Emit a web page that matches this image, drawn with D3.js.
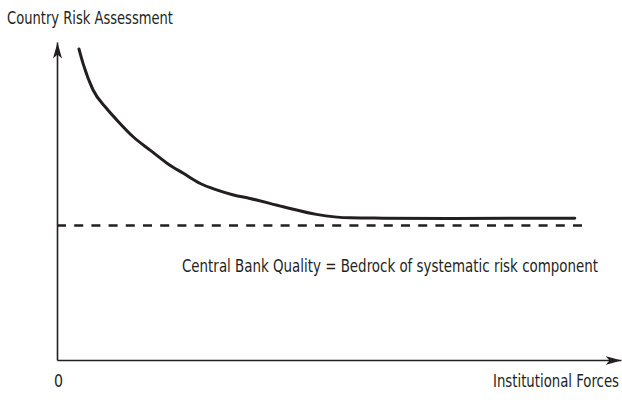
<!DOCTYPE html>
<html>
<head>
<meta charset="utf-8">
<script src="https://cdn.jsdelivr.net/npm/d3@7"></script>
<style>
  body { margin: 0; background: #fff; }
  text { font-family: "DejaVu Sans Condensed", "Liberation Sans", sans-serif; fill: #231f20; }
</style>
</head>
<body>
<div id="chart"></div>
<script>
// curve (x = institutional forces, y = risk, both 0-100)
var forces = [3.9, 4.7, 6.4, 8.8, 10.6, 13.5, 16.5, 19.5, 22.4, 25.4, 28.3, 31.3, 34.2, 40.1, 46.0, 52.0, 57.8, 69.7, 91.8];
var risk   = [97.8, 92.8, 84.9, 79.1, 75.5, 70.2, 66.0, 61.9, 58.7, 55.5, 53.5, 51.9, 50.8, 48.2, 45.8, 44.7, 44.6, 44.5, 44.6];
var bedrockLevel = 42.3;
var bedrockEnd = 94.0;
var labels = {
  y: "Country Risk Assessment",
  x: "Institutional Forces",
  origin: "0",
  bedrock: "Central Bank Quality = Bedrock of systematic risk component"
};

var width = 622, height = 417;
var ink = "#231f20";

var svg = d3.select("#chart").append("svg")
    .attr("width", width)
    .attr("height", height);

var x = d3.scaleLinear().domain([0, 100]).range([57, 621]);
var y = d3.scaleLinear().domain([0, 100]).range([360, 42]);

// arrow head
var defs = svg.append("defs");
defs.append("marker")
    .attr("id", "arrow")
    .attr("markerUnits", "userSpaceOnUse")
    .attr("viewBox", "-16 -5 17 10")
    .attr("refX", 0).attr("refY", 0)
    .attr("markerWidth", 17).attr("markerHeight", 10)
    .attr("orient", "auto")
  .append("path")
    .attr("d", "M0,0 L-16,-4.5 L-12,0 L-16,4.5 Z")
    .style("fill", ink)
    .style("stroke", "none");

// axes
var xAxis = svg.append("g")
    .attr("transform", "translate(0," + y(0) + ")")
    .call(d3.axisBottom(x).tickValues([]).tickSizeOuter(0));
var yAxis = svg.append("g")
    .attr("transform", "translate(" + x(0) + ",0)")
    .call(d3.axisLeft(y).tickValues([]).tickSizeOuter(0));
[xAxis, yAxis].forEach(function(g) {
  g.select(".domain")
    .attr("stroke", ink)
    .attr("stroke-width", 1.6)
    .attr("marker-end", "url(#arrow)");
});

// dashed bedrock line
svg.append("line")
    .attr("x1", x(0)).attr("x2", x(bedrockEnd))
    .attr("y1", y(bedrockLevel)).attr("y2", y(bedrockLevel))
    .attr("stroke", ink)
    .attr("stroke-width", 2.6)
    .attr("stroke-dasharray", "9,8.2");

// risk curve
var pts = forces.map(function(f, i) { return [f, risk[i]]; });
var line = d3.line()
    .x(function(d) { return x(d[0]); })
    .y(function(d) { return y(d[1]); })
    .curve(d3.curveMonotoneX);
svg.append("path")
    .datum(pts)
    .attr("d", line)
    .attr("fill", "none")
    .attr("stroke", ink)
    .attr("stroke-width", 3)
    .attr("stroke-linecap", "round");

// texts, squeezed to the condensed widths of the original
function label(txt, px, py, anchor, w) {
  return svg.append("text")
      .attr("x", px).attr("y", py)
      .attr("text-anchor", anchor)
      .attr("textLength", w)
      .attr("lengthAdjust", "spacingAndGlyphs")
      .style("font-size", "18px")
      .text(txt);
}
label(labels.y, 7, 23.5, "start", 166);
label(labels.origin, x(0) + 1.5, 387, "middle", 9);
label(labels.x, 619, 387, "end", 126);
label(labels.bedrock, 182, 272, "start", 416);
</script>
</body>
</html>
